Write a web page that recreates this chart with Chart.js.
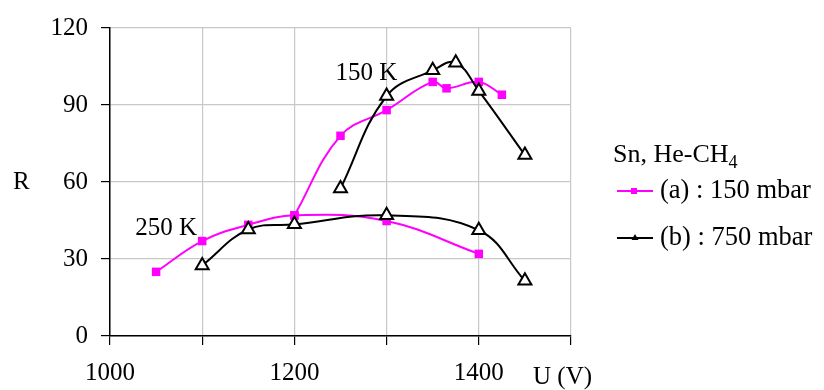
<!DOCTYPE html>
<html>
<head>
<meta charset="utf-8">
<script src="https://cdn.jsdelivr.net/npm/chart.js@4/dist/chart.umd.min.js"></script>
<style>
html,body{margin:0;padding:0;background:#fff;}
#wrap{width:824px;height:390px;position:relative;}
</style>
</head>
<body>
<div id="wrap"><canvas id="c" width="824" height="390"></canvas></div>
<script>
// ---- data ----
const voltsA150 = [1200, 1250, 1300, 1350, 1365, 1400, 1425];
const rA150     = [47, 78, 88, 99, 96.5, 99, 94];
const voltsA250 = [1050, 1100, 1150, 1200, 1300, 1400];
const rA250     = [25, 37, 43.3, 47, 44.8, 32];
const voltsB150 = [1250, 1300, 1350, 1375, 1400, 1450];
const rB150     = [57.5, 93.5, 103.5, 106.5, 95.5, 70.5];
const voltsB250 = [1100, 1150, 1200, 1300, 1400, 1450];
const rB250     = [27.5, 41.5, 43.5, 47, 41.2, 21.5];
const yTicks = [0, 30, 60, 90, 120];
const xLabelTicks = [1000, 1200, 1400];
const legendTitle = "Sn, He-CH";
const legendSub = "4";
const legendLabels = ["(a) : 150 mbar", "(b) : 750 mbar"];
const curveLabels = [{text: "150 K", x: 1278, y: 102.3}, {text: "250 K", x: 1061, y: 41.9}];

const FONT = '"Liberation Serif", "Times New Roman", serif';
const PINK = '#FF00FF';

const pts = (xs, ys) => xs.map((x, i) => ({x: x, y: ys[i]}));

const black = {
  borderColor: '#000', borderWidth: 2, tension: 0.4,
  pointStyle: 'triangle', pointRadius: 7.5, pointBorderWidth: 2,
  pointBackgroundColor: '#fff', pointBorderColor: '#000', fill: false
};
const pink = {
  borderColor: PINK, borderWidth: 2, tension: 0.4,
  pointStyle: 'rect', pointRadius: 6, pointBorderWidth: 0,
  pointBackgroundColor: PINK, pointBorderColor: PINK, fill: false
};

const extras = {
  id: 'extras',
  afterDraw(chart) {
    const ctx = chart.ctx;
    const xs = chart.scales.x, ys = chart.scales.y;
    ctx.save();
    ctx.fillStyle = '#000';
    ctx.textBaseline = 'middle';
    ctx.font = '25px ' + FONT;
    // curve labels
    ctx.textAlign = 'center';
    curveLabels.forEach(l => ctx.fillText(l.text, xs.getPixelForValue(l.x), ys.getPixelForValue(l.y)));
    // axis titles
    ctx.textAlign = 'left';
    ctx.fillText('R', 13, 182);
    ctx.fillText('U (V)', 533, 377);
    // legend
    ctx.font = '26px ' + FONT;
    ctx.fillText(legendTitle, 613, 155);
    const tw = ctx.measureText(legendTitle).width;
    ctx.font = '18px ' + FONT;
    ctx.fillText(legendSub, 613 + tw, 163);
    ctx.font = '26.5px ' + FONT;
    const rows = [{y: 191, c: PINK, s: 'rect'}, {y: 238, c: '#000', s: 'tri'}];
    rows.forEach((r, i) => {
      ctx.strokeStyle = r.c; ctx.lineWidth = 2;
      ctx.beginPath(); ctx.moveTo(617, r.y); ctx.lineTo(653, r.y); ctx.stroke();
      if (r.s === 'rect') {
        ctx.fillStyle = PINK; ctx.fillRect(631, r.y - 3, 6, 6);
      } else {
        ctx.fillStyle = '#000';
        ctx.beginPath(); ctx.moveTo(635, r.y - 4); ctx.lineTo(638.5, r.y + 2); ctx.lineTo(631.5, r.y + 2); ctx.closePath(); ctx.fill();
      }
      ctx.fillStyle = '#000';
      ctx.fillText(legendLabels[i], 660, r.y);
    });
    ctx.restore();
  }
};

new Chart(document.getElementById('c'), {
  type: 'line',
  data: {
    datasets: [
      Object.assign({label: 'b150', data: pts(voltsB150, rB150)}, black),
      Object.assign({label: 'b250', data: pts(voltsB250, rB250)}, black),
      Object.assign({label: 'a150', data: pts(voltsA150, rA150)}, pink),
      Object.assign({label: 'a250', data: pts(voltsA250, rA250)}, pink)
    ]
  },
  options: {
    responsive: false,
    animation: false,
    events: [],
    layout: {padding: {left: 0, top: 24, right: 253, bottom: 0}},
    plugins: {legend: {display: false}, tooltip: {enabled: false}},
    scales: {
      x: {
        type: 'linear', min: 1000, max: 1500,
        afterFit(s) { s.height = 54; },
        grid: {color: '#c8c8c8', lineWidth: 1.2, tickColor: '#000', tickLength: 9, drawTicks: true},
        border: {color: '#000', width: 1.5},
        ticks: {
          stepSize: 100, autoSkip: false, maxRotation: 0, padding: 13,
          color: '#000', font: {family: FONT, size: 25},
          callback: v => xLabelTicks.includes(v) ? String(v) : ''
        }
      },
      y: {
        min: 0, max: 120,
        afterFit(s) { s.width = 110; },
        afterBuildTicks(s) { s.ticks = yTicks.map(v => ({value: v})); },
        grid: {color: '#c8c8c8', lineWidth: 1.2, tickColor: '#000', tickLength: 9},
        border: {color: '#000', width: 1.5},
        ticks: {padding: 13, color: '#000', font: {family: FONT, size: 25}}
      }
    }
  },
  plugins: [extras]
});
</script>
</body>
</html>
